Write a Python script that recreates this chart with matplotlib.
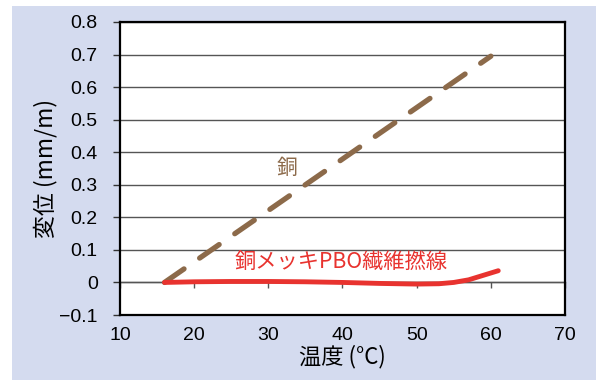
import numpy as np
import matplotlib
matplotlib.use("Agg")
import matplotlib.pyplot as plt
from matplotlib.patches import Rectangle

# temperature (C) vs displacement (mm/m)
copper_temp = [16, 60]
copper_disp = [0.0, 0.695]

pbo_temp = [16, 20, 25, 30, 35, 40, 45, 50, 53, 55, 57, 59, 61]
pbo_disp = [0.0, 0.002, 0.003, 0.003, 0.002, 0.0, -0.003, -0.005, -0.004, 0.0, 0.008, 0.022, 0.036]

x_ticks = [10, 20, 30, 40, 50, 60, 70]
y_ticks = [-0.1, 0, 0.1, 0.2, 0.3, 0.4, 0.5, 0.6, 0.7, 0.8]
y_labels = ["\u22120.1", "0", "0.1", "0.2", "0.3", "0.4", "0.5", "0.6", "0.7", "0.8"]

cjk = ["Noto Sans CJK JP", "DejaVu Sans"]
num_font = "Liberation Sans"

W, H = 596, 380
fig = plt.figure(figsize=(W / 100, H / 100), dpi=100, facecolor="white")

# lavender panel behind the chart
bg = Rectangle((12 / W, 0), 1, 1 - 6 / H, transform=fig.transFigure,
               facecolor="#d4dbef", edgecolor="none", zorder=-10)
fig.add_artist(bg)

ax = fig.add_axes([120 / W, 65 / H, 445 / W, 293 / H])
ax.set_zorder(1)
ax.set_facecolor("white")
ax.set_xlim(10, 70)
ax.set_ylim(-0.1, 0.8)

for s in ax.spines.values():
    s.set_color("black")
    s.set_linewidth(1.6)

ax.set_yticks(y_ticks)
ax.set_yticklabels(y_labels, fontfamily=num_font, fontsize=14)
ax.tick_params(axis="y", direction="out", length=5, width=1, color="#333333", pad=11)

ax.set_xticks(x_ticks)
ax.set_xticklabels([str(t) for t in x_ticks], fontfamily=num_font, fontsize=14)
ax.tick_params(axis="x", length=0, pad=9)

ax.grid(axis="y", color="#555555", linewidth=1.0)
ax.set_axisbelow(True)

# horizontal axis line crossing at zero, with its own tick marks
zero_pos = (0 - (-0.1)) / 0.9
sec = ax.secondary_xaxis(zero_pos)
sec.set_xticks(x_ticks)
sec.set_xticklabels([])
sec.tick_params(direction="out", length=4.5, width=1, color="#555555")
sec.spines["bottom"].set_color("#555555")
sec.spines["bottom"].set_linewidth(1.0)

ax.plot(copper_temp, copper_disp, color="#8c6a4a", linewidth=3.8,
        linestyle=(0, (4.5, 3.6)), solid_capstyle="round", dash_capstyle="round", zorder=3)
ax.plot(pbo_temp, pbo_disp, color="#e8332f", linewidth=3.5,
        solid_capstyle="round", zorder=4)

ax.text(32.5, 0.351, "銅", color="#8c6a4a", fontsize=15, fontfamily=cjk,
        ha="center", va="center")
ax.text(39.8, 0.060, "銅メッキPBO繊維撚線", color="#e8332f", fontsize=15.3,
        fontfamily=cjk, ha="center", va="center")

ax.set_xlabel("温度 (°C)", fontfamily=cjk, fontsize=16, labelpad=0)
ax.set_ylabel("変位 (mm/m)", fontfamily=cjk, fontsize=16.5, labelpad=1)

fig.savefig("out.png", dpi=100, facecolor="white")
